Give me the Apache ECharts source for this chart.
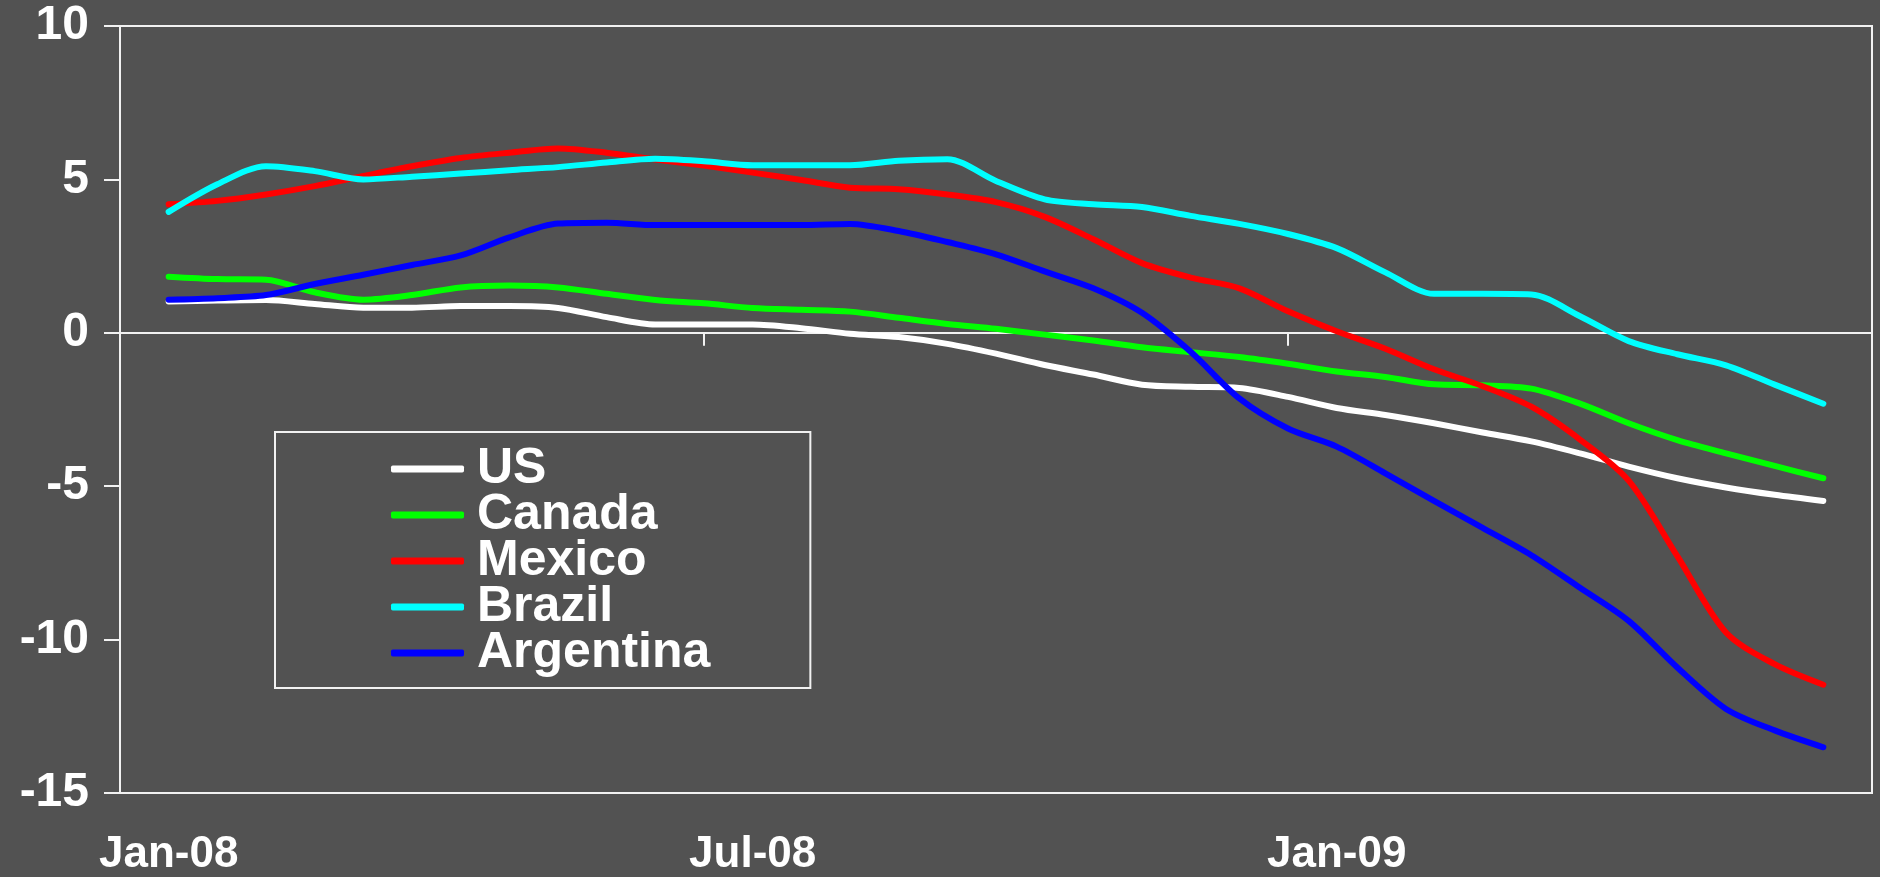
<!DOCTYPE html>
<html><head><meta charset="utf-8">
<script src="https://cdn.jsdelivr.net/npm/echarts@6/dist/echarts.min.js"></script>
<style>html,body{margin:0;padding:0;background:#525252}#c{width:1880px;height:877px}</style>
</head><body><div id="c"></div>
<script>
// Month slots on the axis (labels shown every 6 months)
const months = ['Jan-08','Feb-08','Mar-08','Apr-08','May-08','Jun-08','Jul-08','Aug-08','Sep-08','Oct-08','Nov-08','Dec-08',
                'Jan-09','Feb-09','Mar-09','Apr-09','May-09','Jun-09'];
// Observation positions, in months from the start of Jan-08 (semi-monthly)
const periods = [0.5,1,1.5,2,2.5,3,3.5,4,4.5,5,5.5,6,6.5,7,7.5,8,8.5,9,9.5,10,10.5,11,11.5,12,12.5,13,13.5,14,14.5,15,15.5,16,16.5,17,17.5];
const seriesNames = ['US','Canada','Mexico','Brazil','Argentina'];
const seriesColors = ['#ffffff','#00ff00','#ff0000','#00ffff','#0000ff'];
const us = [1.02,1.05,1.07,0.94,0.82,0.82,0.87,0.87,0.81,0.51,0.27,0.27,0.27,0.15,-0.03,-0.14,-0.36,-0.68,-1.05,-1.36,-1.69,-1.76,-1.80,-2.09,-2.45,-2.68,-2.95,-3.25,-3.54,-3.93,-4.36,-4.74,-5.04,-5.28,-5.48];
const canada = [1.83,1.75,1.73,1.32,1.08,1.23,1.48,1.54,1.48,1.27,1.07,0.96,0.81,0.75,0.69,0.49,0.29,0.13,-0.06,-0.25,-0.47,-0.63,-0.79,-1.01,-1.26,-1.44,-1.68,-1.71,-1.82,-2.31,-2.95,-3.50,-3.93,-4.34,-4.74];
const mexico = [4.19,4.30,4.51,4.78,5.11,5.43,5.70,5.87,6.01,5.87,5.65,5.45,5.22,4.98,4.73,4.68,4.51,4.26,3.78,3.05,2.27,1.80,1.45,0.70,0.05,-0.52,-1.19,-1.74,-2.41,-3.48,-4.82,-7.28,-9.77,-10.80,-11.47];
const brazil = [3.94,4.84,5.43,5.27,5.00,5.09,5.19,5.30,5.40,5.55,5.67,5.59,5.46,5.46,5.46,5.61,5.66,4.95,4.35,4.19,4.10,3.81,3.55,3.22,2.76,1.97,1.27,1.27,1.25,0.54,-0.27,-0.70,-1.06,-1.69,-2.31];
const argentina = [1.08,1.13,1.23,1.59,1.89,2.21,2.52,3.11,3.56,3.59,3.51,3.51,3.51,3.51,3.55,3.32,2.96,2.56,2.00,1.45,0.65,-0.62,-2.14,-3.12,-3.71,-4.58,-5.48,-6.36,-7.25,-8.31,-9.39,-10.91,-12.26,-12.96,-13.51];
const allValues = [us, canada, mexico, brazil, argentina];
const yMin = -15, yMax = 10, yStep = 5;

const FONT = '"Liberation Sans", Arial, sans-serif';
const chart = echarts.init(document.getElementById('c'));
chart.setOption({
  backgroundColor: '#525252',
  animation: false,
  grid: { left: 120, right: 8, top: 26, bottom: 81, show: true, borderColor: '#f2f2f2', borderWidth: 2, backgroundColor: 'transparent' },
  legend: {
    orient: 'vertical', left: 275, top: 432,
    padding: [12, 100, 10, 116],
    borderColor: '#f2f2f2', borderWidth: 2,
    itemGap: -4, itemWidth: 73, itemHeight: 7, icon: 'roundRect',
    textStyle: { color: '#ffffff', fontSize: 50, fontWeight: 'bold', fontFamily: FONT, padding: [0,0,0,8] },
    data: seriesNames
  },
  xAxis: [
    {
      type: 'value', min: 0, max: 18, interval: 6, position: 'top',
      axisLine: { show: true, onZero: true, lineStyle: { color: '#f2f2f2', width: 2 } },
      axisTick: { show: true, inside: true, length: 13, lineStyle: { color: '#f2f2f2', width: 2 } },
      axisLabel: { show: false }, splitLine: { show: false }
    },
    {
      type: 'category', data: months, boundaryGap: true, position: 'bottom',
      axisLine: { show: false }, axisTick: { show: false }, splitLine: { show: false },
      axisLabel: { interval: 5, color: '#ffffff', fontSize: 44, fontWeight: 'bold', fontFamily: FONT, margin: 40 }
    }
  ],
  yAxis: {
    type: 'value', min: yMin, max: yMax, interval: yStep,
    axisLine: { show: false },
    axisTick: { show: true, length: 16, lineStyle: { color: '#f2f2f2', width: 2 } },
    splitLine: { show: false },
    axisLabel: { color: '#ffffff', fontSize: 48, fontWeight: 'bold', fontFamily: FONT, margin: 31 }
  },
  series: seriesNames.map((n, i) => ({
    name: n, type: 'line', xAxisIndex: 0,
    data: periods.map((p, j) => [p, allValues[i][j]]),
    showSymbol: false, symbol: 'none', smooth: 0.3,
    color: seriesColors[i],
    lineStyle: { color: seriesColors[i], width: 6, cap: 'round', join: 'round' },
    emphasis: { disabled: true }
  }))
});
</script></body></html>
